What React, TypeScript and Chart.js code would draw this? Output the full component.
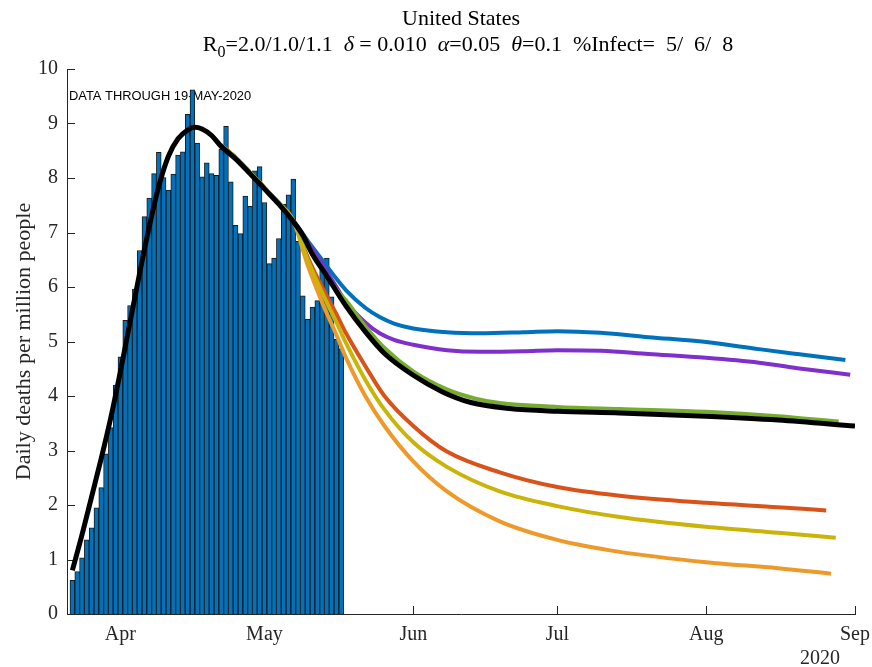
import React, { useEffect, useRef } from 'react';
import { Chart, registerables } from 'chart.js';

Chart.register(...registerables);

// x positions are days since 1 March 2020
const barStartDay = 21; // 22 March
const barValues = [
  0.62, 0.78, 1.03, 1.36, 1.58, 1.95, 2.32, 2.94, 3.42, 4.2,
  4.72, 5.39, 5.66, 5.96, 6.67, 7.29, 7.63, 8.08, 8.47, 8.01,
  7.78, 8.07, 8.42, 8.48, 9.17, 9.62, 8.64, 8.02, 8.28, 8.08,
  8.05, 8.53, 8.95, 7.93, 7.13, 6.98, 7.67, 7.48, 8.13, 8.21,
  7.55, 6.43, 6.53, 6.89, 7.52, 7.69, 7.98, 6.84, 5.84, 5.41,
  5.63, 5.75, 6.46, 6.53, 5.82, 5.04, 4.87,
];

const monthTickDays = [31, 61, 92, 122, 153, 184];
const monthTickLabels = ['Apr', 'May', 'Jun', 'Jul', 'Aug', 'Sep'];
const yearLabel = '2020';
const yTickValues = [0, 1, 2, 3, 4, 5, 6, 7, 8, 9, 10];

const titleText = 'United States';
const noteText = 'DATA THROUGH 19-MAY-2020';
const yAxisTitle = 'Daily deaths per million people';

const fitCurve: [number, number][] = [
  [21, 0.8], [23, 1.45], [25, 2.15], [27, 2.85], [29, 3.6], [31, 4.45],
  [33, 5.35], [35, 6.25], [37, 7.1], [39, 7.85], [41, 8.4], [43, 8.72],
  [45, 8.88], [46.5, 8.93], [48, 8.9], [50, 8.78], [52, 8.58], [55, 8.35],
  [58, 8.08], [61, 7.8], [64, 7.52], [67, 7.2], [69, 6.95], [71, 6.6],
  [74, 6.2], [78, 5.65], [82, 5.18], [86, 4.78], [92, 4.38], [98, 4.08],
  [104, 3.88], [112, 3.77], [122, 3.72], [135, 3.69], [153, 3.63],
  [168, 3.56], [184, 3.45],
];

const sharedStart: [number, number][] = [
  [52, 8.6], [55, 8.37], [58, 8.1], [61, 7.82], [64, 7.54], [67, 7.22],
];

const projBlue: [number, number][] = [
  [70, 6.85], [73, 6.5], [76, 6.15], [78, 5.94], [82, 5.62], [85, 5.45],
  [88, 5.33], [92, 5.24], [99, 5.17], [106, 5.15], [115, 5.17], [122, 5.19],
  [131, 5.16], [141, 5.08], [153, 4.99], [164, 4.86], [172, 4.77], [182, 4.66],
];
const projPurple: [number, number][] = [
  [70, 6.82], [73, 6.42], [76, 6.0], [78, 5.72], [82, 5.35], [85, 5.15],
  [88, 5.03], [92, 4.94], [99, 4.84], [106, 4.81], [115, 4.82], [122, 4.84],
  [131, 4.83], [141, 4.77], [153, 4.7], [164, 4.61], [172, 4.51], [183, 4.39],
];
const projGreen: [number, number][] = [
  [70, 6.75], [73, 6.33], [76, 5.95], [78, 5.75], [82, 5.28], [86, 4.88],
  [92, 4.45], [99, 4.12], [105, 3.95], [110, 3.87], [122, 3.8], [135, 3.76],
  [153, 3.71], [168, 3.63], [180.6, 3.53],
];
const projRed: [number, number][] = [
  [70, 6.55], [73, 6.0], [76, 5.5], [78, 5.15], [82, 4.55], [86, 4.0],
  [92, 3.45], [99, 2.98], [110, 2.6], [122, 2.33], [135, 2.17], [153, 2.04],
  [168, 1.96], [178, 1.9],
];
const projYellow: [number, number][] = [
  [70, 6.5], [73, 5.9], [76, 5.35], [78, 4.97], [82, 4.3], [86, 3.75],
  [92, 3.15], [99, 2.7], [110, 2.25], [122, 1.98], [135, 1.78], [153, 1.6],
  [168, 1.49], [180, 1.4],
];
const projOrange: [number, number][] = [
  [70, 6.4], [73, 5.72], [76, 5.12], [78, 4.7], [82, 4.0], [86, 3.45],
  [92, 2.8], [99, 2.25], [110, 1.7], [122, 1.36], [135, 1.14], [153, 0.95],
  [168, 0.84], [179, 0.74],
];

const SERIF = "'Liberation Serif', 'Times New Roman', serif";
const AXIS_COLOR = '#262626';

type Seg = { t: string; it?: boolean; sub?: boolean };
const subtitleSegs: Seg[] = [
  { t: 'R' }, { t: '0', sub: true }, { t: '=2.0/1.0/1.1  ' },
  { t: 'δ', it: true }, { t: ' = 0.010  ' },
  { t: 'α', it: true }, { t: '=0.05  ' },
  { t: 'θ', it: true }, { t: '=0.1  %Infect=  5/  6/  8' },
];

function drawRich(ctx: CanvasRenderingContext2D, segs: Seg[], cx: number, baseline: number, size: number) {
  const fontFor = (s: Seg) => `${s.it ? 'italic ' : ''}${s.sub ? Math.round(size * 0.72) : size}px ${SERIF}`;
  let total = 0;
  segs.forEach((s) => { ctx.font = fontFor(s); total += ctx.measureText(s.t).width; });
  let x = cx - total / 2;
  ctx.textAlign = 'left';
  ctx.textBaseline = 'alphabetic';
  segs.forEach((s) => {
    ctx.font = fontFor(s);
    ctx.fillText(s.t, x, baseline + (s.sub ? size * 0.28 : 0));
    x += ctx.measureText(s.t).width;
  });
}

const decorPlugin = {
  id: 'decor',
  beforeDatasetsDraw(chart: any) {
    const { ctx, chartArea, scales } = chart;
    const xs = scales.x, ys = scales.y;
    ctx.save();
    ctx.strokeStyle = AXIS_COLOR;
    ctx.lineWidth = 1;
    ys.ticks.forEach((t: any) => {
      const py = Math.round(ys.getPixelForValue(t.value)) + 0.5;
      ctx.beginPath();
      ctx.moveTo(chartArea.left, py);
      ctx.lineTo(chartArea.left + 8, py);
      ctx.stroke();
    });
    xs.ticks.forEach((t: any) => {
      const px = Math.round(xs.getPixelForValue(t.value)) + 0.5;
      ctx.beginPath();
      ctx.moveTo(px, chartArea.bottom);
      ctx.lineTo(px, chartArea.bottom - 8);
      ctx.stroke();
    });
    ctx.fillStyle = '#000';
    ctx.font = "12.9px 'Liberation Sans', Arial, sans-serif";
    ctx.textAlign = 'left';
    ctx.textBaseline = 'middle';
    ctx.fillText(noteText, chartArea.left + 2, ys.getPixelForValue(9.5));
    ctx.restore();
  },
  afterDraw(chart: any) {
    const { ctx, chartArea } = chart;
    ctx.save();
    ctx.fillStyle = '#000';
    const cx = (chartArea.left + chartArea.right) / 2;
    ctx.font = `22px ${SERIF}`;
    ctx.textAlign = 'center';
    ctx.textBaseline = 'alphabetic';
    ctx.fillText(titleText, cx, 25);
    drawRich(ctx, subtitleSegs, cx + 7, 51, 22);
    ctx.fillStyle = AXIS_COLOR;
    ctx.font = `20px ${SERIF}`;
    ctx.textAlign = 'center';
    ctx.fillText(yearLabel, chartArea.right - 35, 664);
    ctx.restore();
  },
};

const toPts = (arr: [number, number][]) => arr.map(([x, y]) => ({ x, y }));

function lineDs(label: string, pts: [number, number][], color: string, width: number, order: number) {
  return {
    type: 'line' as const,
    label,
    data: toPts(pts),
    borderColor: color,
    backgroundColor: color,
    borderWidth: width,
    pointRadius: 0,
    cubicInterpolationMode: 'monotone' as const,
    fill: false,
    order,
    borderCapStyle: 'butt' as const,
  };
}

export default function App() {
  const ref = useRef<HTMLCanvasElement | null>(null);
  useEffect(() => {
    document.body.style.margin = '0';
    if (!ref.current) return;
    const barData = barValues.map((v, i) => ({ x: barStartDay + i, y: v }));
    const chart = new Chart(ref.current, {
      type: 'bar',
      data: {
        datasets: [
          {
            type: 'bar',
            label: 'Daily deaths',
            data: barData,
            backgroundColor: '#0072BD',
            borderColor: '#1a1a1a',
            borderWidth: 1,
            barPercentage: 1,
            categoryPercentage: 1,
            order: 10,
          } as any,
          lineDs('blue', [...sharedStart, ...projBlue], '#0072BD', 4, 5),
          lineDs('purple', [...sharedStart, ...projPurple], '#7E2FCC', 4, 4),
          lineDs('red', [...sharedStart, ...projRed], '#D95319', 4, 4),
          lineDs('yellow', [...sharedStart, ...projYellow], '#C9B40A', 4, 3),
          lineDs('orange', [...sharedStart, ...projOrange], '#EE9A2A', 4, 3),
          lineDs('green', [...sharedStart, ...projGreen], '#77AC30', 4, 2),
          lineDs('fit', fitCurve, '#000000', 5, 1),
        ],
      },
      options: {
        responsive: false,
        animation: false,
        events: [],
        layout: { padding: { top: 69, right: 17, left: 0, bottom: 0 } },
        plugins: {
          legend: { display: false },
          tooltip: { enabled: false },
          title: { display: false },
        },
        scales: {
          x: {
            type: 'linear',
            offset: false,
            min: 19.88,
            max: 184,
            grid: { display: false, offset: false, drawTicks: false },
            border: { display: true, color: AXIS_COLOR, width: 1 },
            afterFit: (s: any) => { s.height = 53; s.paddingLeft = 0; s.paddingRight = 0; },
            afterBuildTicks: (s: any) => { s.ticks = monthTickDays.map((v) => ({ value: v })); },
            ticks: {
              autoSkip: false,
              maxRotation: 0,
              padding: 9,
              color: AXIS_COLOR,
              font: { family: SERIF, size: 20 },
              callback: (v: any) => {
                const i = monthTickDays.indexOf(Number(v));
                return i >= 0 ? monthTickLabels[i] : '';
              },
            },
          },
          y: {
            type: 'linear',
            min: 0,
            max: 10,
            grid: { display: false, drawTicks: false },
            border: { display: true, color: AXIS_COLOR, width: 1 },
            afterFit: (s: any) => { s.width = 67; s.paddingTop = 0; s.paddingBottom = 0; },
            afterBuildTicks: (s: any) => { s.ticks = yTickValues.map((v) => ({ value: v })); },
            ticks: {
              padding: 9,
              color: AXIS_COLOR,
              font: { family: SERIF, size: 20 },
            },
            title: {
              display: true,
              text: yAxisTitle,
              color: AXIS_COLOR,
              font: { family: SERIF, size: 22 },
              padding: { top: 11, bottom: 0 },
            },
          },
        },
      } as any,
      plugins: [decorPlugin],
    });
    return () => chart.destroy();
  }, []);
  return (
    <div style={{ width: 872, height: 667, background: '#fff' }}>
      <canvas ref={ref} width={872} height={667} style={{ display: 'block' }} />
    </div>
  );
}
